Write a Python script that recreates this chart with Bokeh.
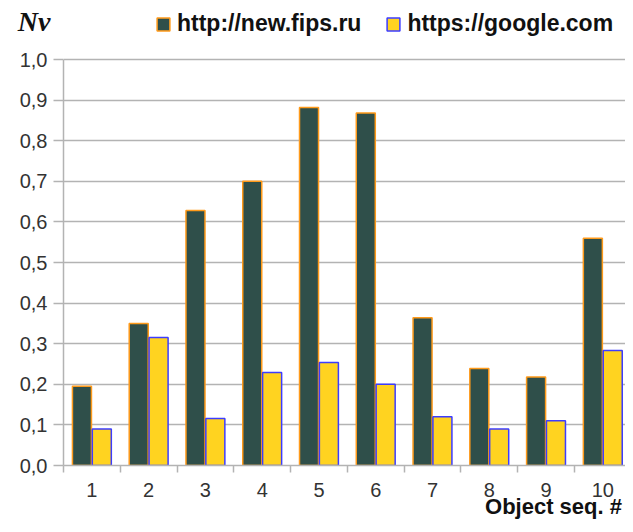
from bokeh.plotting import figure
from bokeh.models import (ColumnDataSource, FixedTicker, CustomJSTickFormatter,
                          Legend, LegendItem, LinearAxis, Range1d)
from bokeh.embed import file_html
from bokeh.resources import INLINE

objects = [1, 2, 3, 4, 5, 6, 7, 8, 9, 10]
fips = [0.195, 0.35, 0.628, 0.70, 0.882, 0.868, 0.364, 0.239, 0.218, 0.56]
google = [0.09, 0.315, 0.116, 0.229, 0.254, 0.20, 0.12, 0.09, 0.11, 0.283]
y_ticks = [0, 0.1, 0.2, 0.3, 0.4, 0.5, 0.6, 0.7, 0.8, 0.9, 1.0]
series_names = ["http://new.fips.ru", "https://google.com"]
y_title = "Nv"
x_title = "Object seq. #"

GRID = "#b3b3b3"
TXT = "#333333"
DARK = "#111111"

# layout (pixels)
FRAME_TOP, FRAME_BOTTOM, PX_PER_UNIT = 4, 465, 406
Y_END = (FRAME_BOTTOM - FRAME_TOP) / PX_PER_UNIT
NV_POS = (FRAME_BOTTOM - 21) / PX_PER_UNIT        # where the "Nv" caption sits
X_END = 10.4
XTITLE_POS = 0.5 + (553 - 63) / (562 / (X_END - 0.5))

p = figure(width=625, height=524, output_backend="svg", toolbar_location=None,
           x_range=Range1d(0.5, X_END), y_range=Range1d(0, Y_END),
           min_border_left=63, min_border_top=FRAME_TOP,
           min_border_bottom=524 - FRAME_BOTTOM, min_border_right=0)
p.outline_line_color = None
p.background_fill_color = "white"

src = ColumnDataSource(dict(
    x1=[o - 0.175 for o in objects],
    x2=[o + 0.175 for o in objects],
    fips=fips, google=google))

r1 = p.vbar(x="x1", top="fips", bottom=0, width=0.335, source=src,
            fill_color="#2f4f4a", line_color="#ff9a1a", line_width=1.5)
r2 = p.vbar(x="x2", top="google", bottom=0, width=0.335, source=src,
            fill_color="#ffd320", line_color="#3c3cff", line_width=1.5)

# x axis
xa = p.xaxis[0]
xa.ticker = FixedTicker(ticks=objects, minor_ticks=[o - 0.5 for o in objects] + [10.5])
xa.major_tick_line_color = None
xa.major_tick_out = 7
xa.major_tick_in = 0
xa.minor_tick_out = 7
xa.minor_tick_in = 0
xa.minor_tick_line_color = GRID
xa.minor_tick_line_width = 1.5
xa.axis_line_color = GRID
xa.axis_line_width = 1.5
xa.major_label_text_font = "Liberation Sans"
xa.major_label_text_font_size = "20px"
xa.major_label_text_color = TXT
xa.major_label_standoff = 10

# x caption as an outer axis carrying one label
xa2 = LinearAxis(ticker=FixedTicker(ticks=[XTITLE_POS]),
                 formatter=CustomJSTickFormatter(args=dict(t=x_title), code="return t;"))
xa2.axis_line_color = None
xa2.major_tick_line_color = None
xa2.minor_tick_line_color = None
xa2.major_tick_out = 0
xa2.major_tick_in = 0
xa2.major_label_standoff = -6
xa2.major_label_text_font = "Liberation Sans"
xa2.major_label_text_font_style = "bold"
xa2.major_label_text_font_size = "22px"
xa2.major_label_text_color = DARK
p.add_layout(xa2, "below")

# y axis
ya = p.yaxis[0]
ya.ticker = FixedTicker(ticks=y_ticks)
ya.formatter = CustomJSTickFormatter(code="return tick.toFixed(1).replace('.', ',');")
ya.bounds = (0, 1.0)
ya.minor_tick_line_color = None
ya.major_tick_out = 10
ya.major_tick_in = 0
ya.major_tick_line_color = GRID
ya.major_tick_line_width = 1.5
ya.axis_line_color = GRID
ya.axis_line_width = 1.5
ya.major_label_text_font = "Liberation Sans"
ya.major_label_text_font_size = "20px"
ya.major_label_text_color = TXT
ya.major_label_standoff = 6

# y caption "Nv" as an outer axis carrying one label
ya2 = LinearAxis(ticker=FixedTicker(ticks=[NV_POS]),
                 formatter=CustomJSTickFormatter(args=dict(t=y_title), code="return t;"))
ya2.axis_line_color = None
ya2.major_tick_line_color = None
ya2.minor_tick_line_color = None
ya2.major_tick_out = 0
ya2.major_tick_in = 0
ya2.major_label_standoff = -34
ya2.major_label_text_font = "Liberation Serif"
ya2.major_label_text_font_style = "bold italic"
ya2.major_label_text_font_size = "28px"
ya2.major_label_text_color = DARK
p.add_layout(ya2, "left")

p.xgrid.grid_line_color = None
p.ygrid.grid_line_color = GRID
p.ygrid.grid_line_width = 1.5

legend = Legend(items=[LegendItem(label=series_names[0], renderers=[r1]),
                       LegendItem(label=series_names[1], renderers=[r2])],
                location=(92, FRAME_BOTTOM - 37), orientation="horizontal")
legend.label_text_font = "Liberation Sans"
legend.label_text_font_style = "bold"
legend.label_text_font_size = "23px"
legend.label_text_color = DARK
legend.glyph_width = 16
legend.glyph_height = 16
legend.label_standoff = 6
legend.spacing = 24
legend.padding = 0
legend.margin = 0
legend.border_line_color = None
legend.background_fill_alpha = 0
p.add_layout(legend, "center")

open("out.html", "w").write(file_html(p, INLINE))
